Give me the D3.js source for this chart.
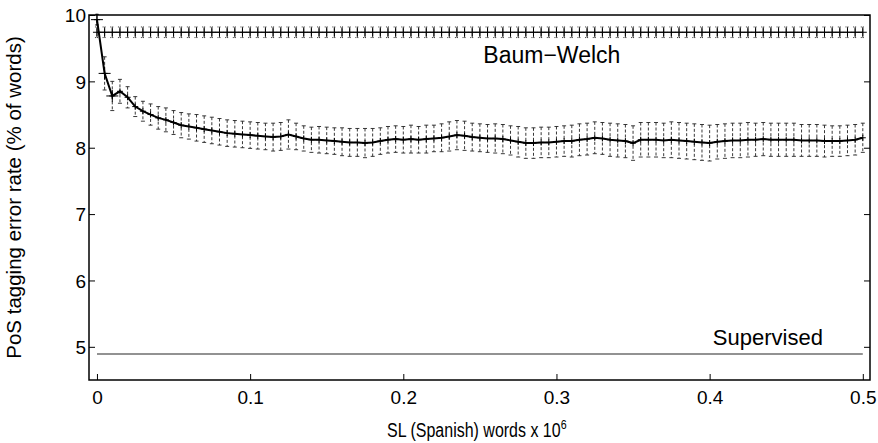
<!DOCTYPE html>
<html>
<head>
<meta charset="utf-8">
<script src="https://cdn.jsdelivr.net/npm/d3@7"></script>
<style>
  body { margin: 0; background: #fff; }
  text { font-family: "Liberation Sans", Arial, sans-serif; fill: #000; }
</style>
</head>
<body>
<div class="chart"></div>
<script>
// sample step of the SL corpus (x 10^6 words)
var step = 0.005;

// mean error rate of the unsupervised runs, one value per sample
var meanErr = [
  9.93, 9.12, 8.78, 8.85, 8.76, 8.62, 8.55, 8.50, 8.45, 8.42,
  8.38, 8.34, 8.32, 8.30, 8.28, 8.26, 8.24, 8.22, 8.21, 8.20,
  8.19, 8.18, 8.17, 8.16, 8.17, 8.20, 8.17, 8.14, 8.12, 8.12,
  8.11, 8.10, 8.09, 8.08, 8.08, 8.07, 8.08, 8.10, 8.12, 8.13,
  8.12, 8.13, 8.12, 8.13, 8.14, 8.15, 8.17, 8.19, 8.18, 8.16,
  8.15, 8.14, 8.14, 8.13, 8.11, 8.09, 8.07, 8.07, 8.08, 8.08,
  8.09, 8.10, 8.10, 8.12, 8.13, 8.15, 8.14, 8.12, 8.11, 8.10,
  8.07, 8.12, 8.12, 8.12, 8.11, 8.12, 8.11, 8.10, 8.09, 8.08,
  8.07, 8.09, 8.10, 8.11, 8.11, 8.12, 8.12, 8.13, 8.12, 8.12,
  8.12, 8.12, 8.11, 8.11, 8.11, 8.10, 8.10, 8.10, 8.11, 8.12,
  8.15
];

// half width of the error bars
var errBar = [
  0.08, 0.25, 0.22, 0.18, 0.16, 0.15, 0.15, 0.16, 0.17, 0.18,
  0.18, 0.19, 0.19, 0.20, 0.20, 0.20, 0.20, 0.20, 0.20, 0.20,
  0.20, 0.20, 0.20, 0.21, 0.21, 0.22, 0.20, 0.19, 0.19, 0.20,
  0.20, 0.20, 0.21, 0.21, 0.21, 0.22, 0.21, 0.20, 0.20, 0.20,
  0.20, 0.21, 0.20, 0.21, 0.20, 0.21, 0.22, 0.22, 0.22, 0.21,
  0.21, 0.21, 0.22, 0.22, 0.22, 0.23, 0.23, 0.23, 0.23, 0.23,
  0.23, 0.23, 0.24, 0.24, 0.24, 0.24, 0.24, 0.25, 0.25, 0.25,
  0.26, 0.26, 0.26, 0.26, 0.26, 0.27, 0.27, 0.27, 0.27, 0.27,
  0.27, 0.26, 0.26, 0.26, 0.26, 0.26, 0.25, 0.25, 0.25, 0.25,
  0.25, 0.25, 0.24, 0.24, 0.24, 0.24, 0.23, 0.23, 0.23, 0.23,
  0.22
];

// reference lines
var baumWelch = 9.74, baumWelchErr = 0.08;
var supervised = 4.89;

var xTicks = [0, 0.1, 0.2, 0.3, 0.4, 0.5];
var yTicks = [5, 6, 7, 8, 9, 10];

var svgWidth = 878, svgHeight = 443;
var margin = { top: 15, right: 8, bottom: 63, left: 89 };
var width = svgWidth - margin.left - margin.right;
var height = svgHeight - margin.top - margin.bottom;

var svg = d3.select(".chart").append("svg")
  .attr("width", svgWidth)
  .attr("height", svgHeight);

var g = svg.append("g")
  .attr("transform", `translate(${margin.left}, ${margin.top})`);

var x = d3.scaleLinear().domain([-0.0052, 0.5047]).range([0, width]);
var y = d3.scaleLinear().domain([4.5, 10]).range([height, 0]);

var pts = meanErr.map((v, i) => ({ x: i * step, y: v, e: errBar[i] }));
var bwPts = meanErr.map((v, i) => ({ x: i * step, y: baumWelch, e: baumWelchErr }));

// axes with inward ticks (plus mirrored on the right)
g.append("g")
  .attr("transform", `translate(0, ${height})`)
  .call(d3.axisBottom(x).tickValues(xTicks).tickSize(-6).tickPadding(11)
    .tickFormat(d => d === 0 ? "0" : d3.format(".1f")(d)))
  .call(a => a.select(".domain").remove())
  .call(a => a.selectAll("text").attr("font-size", "19px"));

g.append("g")
  .call(d3.axisLeft(y).tickValues(yTicks).tickSize(-6).tickPadding(3).tickFormat(d3.format("d")))
  .call(a => a.select(".domain").remove())
  .call(a => a.selectAll("text").attr("font-size", "19px").attr("dy", "0.35em"));

g.append("g")
  .attr("transform", `translate(${width}, 0)`)
  .call(d3.axisRight(y).tickValues(yTicks).tickSize(-6).tickFormat(""))
  .call(a => a.select(".domain").remove());

g.selectAll(".tick line").attr("stroke", "#000").attr("stroke-width", 1);

// supervised line
g.append("line")
  .attr("x1", x(0)).attr("x2", x(0.5))
  .attr("y1", y(supervised)).attr("y2", y(supervised))
  .attr("stroke", "#6e6e6e").attr("stroke-width", 1.5);

// error bars helper
function errBars(data, dash, capDash, col) {
  var eg = g.append("g").attr("stroke", col).attr("stroke-width", 0.9);
  eg.selectAll(".v").data(data).enter().append("line")
    .attr("x1", d => x(d.x)).attr("x2", d => x(d.x))
    .attr("y1", d => y(d.y + d.e)).attr("y2", d => y(d.y - d.e))
    .attr("stroke-dasharray", dash);
  eg.selectAll(".t").data(data).enter().append("line")
    .attr("x1", d => x(d.x) - 2).attr("x2", d => x(d.x) + 2)
    .attr("y1", d => y(d.y + d.e)).attr("y2", d => y(d.y + d.e))
    .attr("stroke-dasharray", capDash);
  eg.selectAll(".b").data(data).enter().append("line")
    .attr("x1", d => x(d.x) - 2).attr("x2", d => x(d.x) + 2)
    .attr("y1", d => y(d.y - d.e)).attr("y2", d => y(d.y - d.e))
    .attr("stroke-dasharray", capDash);
}

function plusMarks(data, s) {
  var mg = g.append("g").attr("stroke", "#000").attr("stroke-width", 1);
  mg.selectAll(".h").data(data).enter().append("line")
    .attr("x1", d => x(d.x) - s).attr("x2", d => x(d.x) + s)
    .attr("y1", d => y(d.y)).attr("y2", d => y(d.y));
  mg.selectAll(".vv").data(data).enter().append("line")
    .attr("x1", d => x(d.x)).attr("x2", d => x(d.x))
    .attr("y1", d => y(d.y) - s).attr("y2", d => y(d.y) + s);
}

// Baum-Welch
errBars(bwPts, "none", "1,1", "#222");
var line = d3.line().x(d => x(d.x)).y(d => y(d.y));
g.append("path").datum(bwPts).attr("d", line)
  .attr("fill", "none").attr("stroke", "#000").attr("stroke-width", 1.2);
plusMarks(bwPts, 4);

// unsupervised mean curve
errBars(pts, "3,2", "none", "#222");
g.append("path").datum(pts).attr("d", line)
  .attr("fill", "none").attr("stroke", "#000").attr("stroke-width", 2);
plusMarks(pts, 3);
plusMarks(pts.slice(0, 3), 6);

// frame
g.append("rect").attr("width", width).attr("height", height)
  .attr("fill", "none").attr("stroke", "#000").attr("stroke-width", 1.5);

// series labels
g.append("text").attr("x", x(0.297)).attr("y", y(9.27))
  .attr("text-anchor", "middle").attr("font-size", "23px").text("Baum\u2212Welch");
g.append("text").attr("x", x(0.438)).attr("y", y(5.03))
  .attr("text-anchor", "middle").attr("font-size", "22px").text("Supervised");

// axis titles
svg.append("text")
  .attr("transform", `translate(21, ${margin.top + height / 2}) rotate(-90)`)
  .attr("text-anchor", "middle").attr("font-size", "20.5px")
  .text("PoS tagging error rate (% of words)");

var xt = svg.append("text")
  .attr("transform", `translate(${margin.left + x(0.248)}, 437) scale(0.82, 1)`)
  .attr("text-anchor", "middle").attr("font-size", "19.5px");
xt.append("tspan").text("SL (Spanish) words x 10");
xt.append("tspan").attr("dy", "-8").attr("font-size", "13px").text("6");
</script>
</body>
</html>
